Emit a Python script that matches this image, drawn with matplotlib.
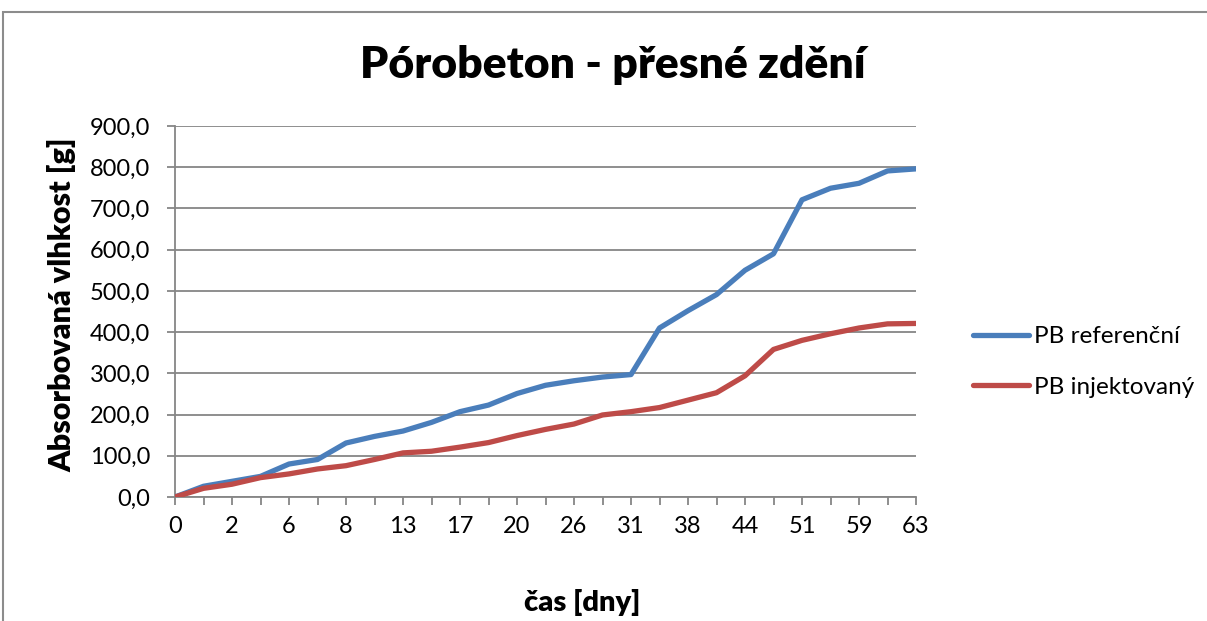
import numpy as np
import matplotlib
matplotlib.use("Agg")
import matplotlib.pyplot as plt
from matplotlib.patches import Rectangle
from matplotlib.ticker import FuncFormatter

plt.rcParams['font.family'] = ['Lato', 'DejaVu Sans']

# ---------- Data ----------
days = ['0', '1', '2', '4', '6', '7', '8', '10', '13', '15', '17', '18', '20', '22',
        '26', '28', '31', '34', '38', '41', '44', '48', '51', '55', '59', '61', '63']
pb_ref = [0, 26, 38, 50, 80, 91, 131, 147, 160, 181, 207, 223, 251, 271,
          282, 291, 297, 410, 452, 491, 550, 590, 721, 749, 761, 791, 796]
pb_inj = [0, 21, 31, 47, 56, 68, 76, 91, 107, 111, 121, 132, 149, 164,
          177, 199, 207, 217, 235, 253, 294, 358, 380, 396, 410, 420, 421]

yticks = np.arange(0, 901, 100)

# ---------- Figure ----------
W, H = 1207, 621
fig = plt.figure(figsize=(W / 100, H / 100), dpi=100)
ax = fig.add_axes([175 / W, 124 / H, (916 - 175) / W, (497 - 126) / H])

# rámeček grafu (oblast grafu jako v Excelu)
fig.patches.append(Rectangle((3 / W, -0.1), 1.2, (H - 12) / H + 0.1,
                             transform=fig.transFigure, fill=False,
                             edgecolor='#8c8c8c', lw=1.5))

x = np.arange(len(days))
grid_c = '#868686'

ax.plot(x, pb_ref, color='#4A7EBB', lw=3.8, label='PB referenční',
        solid_capstyle='round', solid_joinstyle='round', zorder=3)
ax.plot(x, pb_inj, color='#BE4B48', lw=3.8, label='PB injektovaný',
        solid_capstyle='round', solid_joinstyle='round', zorder=3)

ax.set_xlim(0, len(days) - 1)
ax.set_ylim(0, 900)
ax.set_yticks(yticks)
ax.yaxis.set_major_formatter(FuncFormatter(lambda v, p: f"{v:.1f}".replace('.', ',')))
ax.set_xticks(x)
ax.set_xticklabels([d if i % 2 == 0 else '' for i, d in enumerate(days)])

ax.grid(axis='y', color=grid_c, lw=1.3)
ax.set_axisbelow(True)
for s in ['top', 'right']:
    ax.spines[s].set_visible(False)
for s in ['left', 'bottom']:
    ax.spines[s].set_color(grid_c)
    ax.spines[s].set_linewidth(1.3)
ax.tick_params(axis='both', direction='out', length=6, width=1.3, color=grid_c,
               labelsize=17)
ax.tick_params(axis='x', pad=8)
ax.tick_params(axis='y', pad=12)

# popisky os a nadpis
fig.text(62 / W, 1 - 305 / H, 'Absorbovaná vlhkost [g]', fontsize=22,
         fontweight='heavy', rotation=90, ha='center', va='center')
fig.text(582 / W, 1 - 603 / H, 'čas [dny]', fontsize=21, fontweight='heavy',
         ha='center', va='center')
fig.text(613 / W, 1 - 65 / H, 'Pórobeton - přesné zdění', fontsize=32,
         fontweight='heavy', ha='center', va='center')

fig.legend(loc='center left', bbox_to_anchor=(951 / W, 1 - 362 / H),
           frameon=False, fontsize=17.5, handlelength=2.3, handletextpad=0.2,
           labelspacing=1.2)

fig.savefig('out.png', dpi=100)
